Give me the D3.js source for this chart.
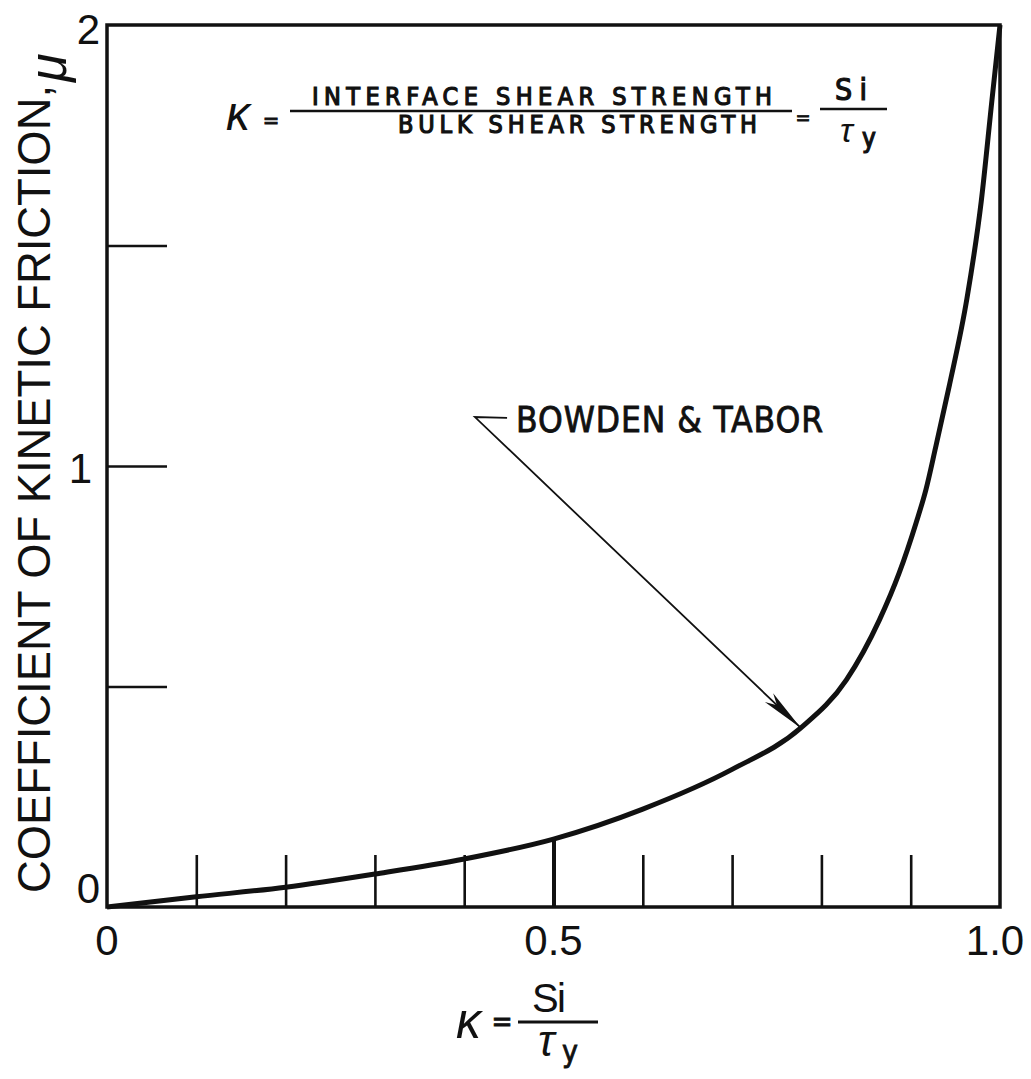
<!DOCTYPE html>
<meta charset="utf-8">
<html>
<head>
	<script src="https://cdn.jsdelivr.net/npm/d3@7"></script>
	<style>
		body { margin: 0; background: #fff; }
		svg { display: block; background: #fff; }
		.ink { fill: #111; }
		.lbl { font-family: "Liberation Sans", Arial, sans-serif; fill: #111; }
		.note { font-family: "DejaVu Sans Condensed", "DejaVu Sans", sans-serif; font-stretch: condensed; fill: #111; stroke: #111; stroke-width: 0.8px; }
		.small { stroke-width: 1.2px; }
	</style>
</head>
<body>
	<svg id="chart" width="1031" height="1079"></svg>
	<script>
		// Bowden & Tabor curve
		var kappa = [0, 0.1, 0.2, 0.3, 0.4, 0.5, 0.6, 0.7, 0.777, 0.828, 0.865, 0.887, 0.906, 0.917, 0.928, 0.943, 0.963, 0.979, 0.991, 1.0];
		var mu    = [0, 0.023, 0.045, 0.075, 0.109, 0.154, 0.222, 0.312, 0.406, 0.515, 0.651, 0.757, 0.871, 0.946, 1.043, 1.18, 1.38, 1.60, 1.83, 2.0];

		var xTickValues = [0.1, 0.2, 0.3, 0.4, 0.5, 0.6, 0.7, 0.8, 0.9];
		var xTickLabels = ["0", "0.5", "1.0"];
		var xLabelValues = [0, 0.5, 1.0];
		var yTickValues = [0.5, 1.0, 1.5];
		var yTickLabels = ["0", "1", "2"];
		var yLabelValues = [0, 1, 2];

		// arrow: leader tail, leader end, tip (in kappa / mu units)
		var arrowTail = [0.412, 1.111];
		var leaderEnd = [0.448, 1.109];
		var arrowTip = [0.777, 0.406];

		var margin = {top: 25, right: 31, bottom: 172, left: 107},
			width = 1031 - margin.left - margin.right,
			height = 1079 - margin.top - margin.bottom;

		var svg = d3.select("#chart");
		var g = svg.append("g").attr("transform", "translate(" + margin.left + "," + margin.top + ")");

		var x = d3.scaleLinear().domain([0, 1]).range([0, width]);
		var y = d3.scaleLinear().domain([0, 2]).range([height, 0]);

		// inner ticks
		var xAxis = g.append("g")
			.attr("transform", "translate(0," + height + ")")
			.call(d3.axisBottom(x).tickValues(xTickValues).tickSize(-52).tickFormat(""));
		var yAxis = g.append("g")
			.call(d3.axisLeft(y).tickValues(yTickValues).tickSize(-60).tickFormat(""));
		g.selectAll(".domain").remove();
		g.selectAll(".tick line").attr("stroke", "#111").attr("stroke-width", 2.6);
		xAxis.selectAll(".tick line")
			.filter(function(d) { return d === 0.5; })
			.attr("y2", -70)
			.attr("stroke-width", 4);

		// frame
		g.append("rect")
			.attr("x", 0).attr("y", 0)
			.attr("width", width).attr("height", height)
			.attr("fill", "none").attr("stroke", "#111").attr("stroke-width", 3.5);

		// curve
		var line = d3.line()
			.x(function(d) { return x(d[0]); })
			.y(function(d) { return y(d[1]); })
			.curve(d3.curveMonotoneX);
		g.append("path")
			.datum(d3.zip(kappa, mu))
			.attr("d", line)
			.attr("fill", "none").attr("stroke", "#111").attr("stroke-width", 5)
			.attr("stroke-linejoin", "round");

		// arrow
		var tx = x(arrowTail[0]), ty = y(arrowTail[1]);
		var px = x(arrowTip[0]), py = y(arrowTip[1]);
		g.append("path")
			.attr("d", "M" + x(leaderEnd[0]) + "," + y(leaderEnd[1]) + "L" + tx + "," + ty + "L" + px + "," + py)
			.attr("fill", "none").attr("stroke", "#111").attr("stroke-width", 1.8);
		var ang = Math.atan2(py - ty, px - tx), hl = 44, hw = 6;
		var bx = px - hl * Math.cos(ang), by = py - hl * Math.sin(ang);
		g.append("path")
			.attr("d", "M" + px + "," + py +
				"L" + (bx + hw * Math.sin(ang)) + "," + (by - hw * Math.cos(ang)) +
				"L" + (px - 0.75 * hl * Math.cos(ang)) + "," + (py - 0.75 * hl * Math.sin(ang)) +
				"L" + (bx - hw * Math.sin(ang)) + "," + (by + hw * Math.cos(ang)) + "Z")
			.attr("class", "ink");

		// tick labels
		var xOff = [0, 0, -5];
		svg.selectAll(".xl").data(xTickLabels).enter().append("text")
			.attr("class", "lbl")
			.attr("x", function(d, i) { return margin.left + x(xLabelValues[i]) + xOff[i]; })
			.attr("y", 955)
			.attr("text-anchor", "middle")
			.style("font-size", "42px")
			.text(function(d) { return d; });

		var yOff = [-4, 17, 19];
		svg.selectAll(".yl").data(yTickLabels).enter().append("text")
			.attr("class", "lbl")
			.attr("x", function(d, i) { return i === 1 ? 92 : 100; })
			.attr("y", function(d, i) { return margin.top + y(yLabelValues[i]) + yOff[i]; })
			.attr("text-anchor", "end")
			.style("font-size", "42px")
			.text(function(d) { return d; });

		// y axis title
		svg.append("text")
			.attr("class", "lbl")
			.attr("transform", "translate(50,893) rotate(-90)")
			.attr("textLength", 808)
			.attr("lengthAdjust", "spacingAndGlyphs")
			.style("font-size", "46px")
			.text("COEFFICIENT OF KINETIC FRICTION,");
		svg.append("text")
			.attr("class", "lbl")
			.attr("transform", "translate(66,82) rotate(-90)")
			.style("font-size", "52px")
			.style("font-style", "italic")
			.text("μ");

		// x axis title: kappa = Si / tau_y
		svg.append("text").attr("class", "lbl")
			.attr("x", 456).attr("y", 1038)
			.style("font-size", "50px").style("font-style", "italic")
			.text("κ");
		svg.append("text").attr("class", "note")
			.attr("x", 502).attr("y", 1031).attr("text-anchor", "middle")
			.style("font-size", "28px")
			.text("=");
		svg.append("line")
			.attr("x1", 518).attr("x2", 598).attr("y1", 1022).attr("y2", 1022)
			.attr("stroke", "#111").attr("stroke-width", 2.8);
		svg.append("text").attr("class", "lbl")
			.attr("x", 532).attr("y", 1012)
			.attr("textLength", 34).attr("lengthAdjust", "spacing")
			.style("font-size", "40px")
			.text("Si");
		svg.append("text").attr("class", "lbl")
			.attr("x", 538).attr("y", 1056)
			.style("font-size", "44px").style("font-style", "italic")
			.text("τ");
		svg.append("text").attr("class", "note")
			.attr("x", 562).attr("y", 1062)
			.style("font-size", "30px")
			.text("y");

		// top formula
		svg.append("text").attr("class", "lbl")
			.attr("x", 226).attr("y", 130)
			.style("font-size", "48px").style("font-style", "italic")
			.text("κ");
		svg.append("text").attr("class", "note")
			.attr("x", 271).attr("y", 128).attr("text-anchor", "middle")
			.style("font-size", "22px")
			.text("=");
		svg.append("line")
			.attr("x1", 290).attr("x2", 792).attr("y1", 111).attr("y2", 111)
			.attr("stroke", "#111").attr("stroke-width", 2.5);
		svg.append("text").attr("class", "note small")
			.attr("x", 312).attr("y", 105)
			.attr("textLength", 460).attr("lengthAdjust", "spacing")
			.style("font-size", "25px")
			.text("INTERFACE SHEAR STRENGTH");
		svg.append("text").attr("class", "note small")
			.attr("x", 398).attr("y", 133)
			.attr("textLength", 359).attr("lengthAdjust", "spacing")
			.style("font-size", "25px")
			.text("BULK SHEAR STRENGTH");
		svg.append("text").attr("class", "note")
			.attr("x", 803).attr("y", 124).attr("text-anchor", "middle")
			.style("font-size", "20px")
			.text("=");
		svg.append("line")
			.attr("x1", 820).attr("x2", 887).attr("y1", 109).attr("y2", 109)
			.attr("stroke", "#111").attr("stroke-width", 2.5);
		svg.append("text").attr("class", "note small")
			.attr("x", 835).attr("y", 100)
			.attr("textLength", 32).attr("lengthAdjust", "spacing")
			.style("font-size", "30px")
			.text("Si");
		svg.append("text").attr("class", "lbl")
			.attr("x", 840).attr("y", 142)
			.style("font-size", "34px").style("font-style", "italic")
			.text("τ");
		svg.append("text").attr("class", "note small")
			.attr("x", 862).attr("y", 147)
			.style("font-size", "26px")
			.text("y");

		// curve label
		svg.append("text").attr("class", "note")
			.attr("x", 516).attr("y", 432)
			.attr("textLength", 307).attr("lengthAdjust", "spacing")
			.style("font-size", "35px")
			.text("BOWDEN & TABOR");
	</script>
</body>
</html>
